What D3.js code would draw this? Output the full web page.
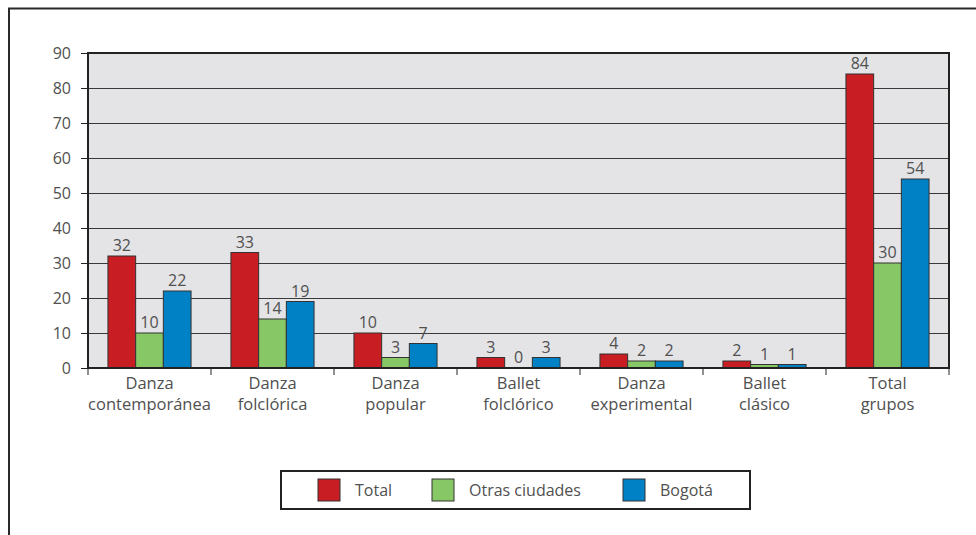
<!DOCTYPE html>
<html>
<head>
<meta charset="utf-8">
<script src="https://cdn.jsdelivr.net/npm/d3@7"></script>
<style>
  body { margin: 0; background: #fff; }
  text { font-family: "Open Sans", sans-serif; fill: #505050; }
</style>
</head>
<body>
<svg width="976" height="535"></svg>
<script>
// categories, split in two lines each
var categories = ["Danza contemporánea", "Danza folclórica", "Danza popular", "Ballet folclórico",
                  "Danza experimental", "Ballet clásico", "Total grupos"];
var series = ["Total", "Otras ciudades", "Bogotá"];
var total = [32, 33, 10, 3, 4, 2, 84];
var otras = [10, 14, 3, 0, 2, 1, 30];
var bogota = [22, 19, 7, 3, 2, 1, 54];
var yTicks = [0, 10, 20, 30, 40, 50, 60, 70, 80, 90];

var svg = d3.select("svg"),
    margin = { top: 53, right: 27, bottom: 167, left: 88 },
    width = +svg.attr("width") - margin.left - margin.right,
    height = +svg.attr("height") - margin.top - margin.bottom;

var color = d3.scaleOrdinal().domain(series).range(["#c91d24", "#88c765", "#0080c5"]);

// outer frame (left and top lines only)
svg.append("path")
    .attr("d", "M9,535V8.5H976")
    .attr("fill", "none")
    .attr("stroke", "#2a2a2a")
    .attr("stroke-width", 2);

var x = d3.scaleBand().domain(categories).range([0, width]).paddingInner(0).paddingOuter(0);
var xs = d3.scaleBand().domain(series).range([0, x.bandwidth()]).paddingOuter(0.72).paddingInner(0);
var y = d3.scaleLinear().domain([0, 90]).range([height, 0]);

var g = svg.append("g").attr("transform", "translate(" + margin.left + "," + margin.top + ")");

// plot background
g.append("rect")
    .attr("width", width)
    .attr("height", height)
    .attr("fill", "#e4e4e6");

// gridlines
g.selectAll(".grid")
    .data(yTicks.slice(1, -1))
    .enter().append("line")
    .attr("x1", 0).attr("x2", width)
    .attr("y1", function (d) { return Math.round(y(d)) + 0.5; })
    .attr("y2", function (d) { return Math.round(y(d)) + 0.5; })
    .attr("stroke", "#3a3a3a")
    .attr("stroke-width", 1);

var data = categories.map(function (c, i) {
    return { cat: c, values: [
        { s: series[0], v: total[i] },
        { s: series[1], v: otras[i] },
        { s: series[2], v: bogota[i] }
    ] };
});

var groups = g.selectAll(".grp")
    .data(data)
    .enter().append("g")
    .attr("transform", function (d) { return "translate(" + x(d.cat) + ",0)"; });

groups.selectAll("rect")
    .data(function (d) { return d.values; })
    .enter().append("rect")
    .attr("x", function (d) { return xs(d.s); })
    .attr("y", function (d) { return y(d.v); })
    .attr("width", xs.bandwidth())
    .attr("height", function (d) { return height - y(d.v); })
    .attr("fill", function (d) { return color(d.s); })
    .attr("stroke", "#333")
    .attr("stroke-width", 1);

groups.selectAll(".val")
    .data(function (d) { return d.values; })
    .enter().append("text")
    .attr("x", function (d) { return xs(d.s) + xs.bandwidth() / 2; })
    .attr("y", function (d) { return y(d.v) - 5; })
    .attr("text-anchor", "middle")
    .style("font-size", "16px")
    .text(function (d) { return d.v; });

// plot border
g.append("rect")
    .attr("width", width)
    .attr("height", height)
    .attr("fill", "none")
    .attr("stroke", "#222")
    .attr("stroke-width", 2);

// y axis
var yAxis = g.append("g")
    .call(d3.axisLeft(y).tickValues(yTicks).tickSize(7).tickPadding(10));
yAxis.select(".domain").remove();
yAxis.selectAll("line").attr("stroke", "#222");
yAxis.selectAll("text").style("font-size", "16px").attr("fill", "#505050");

// x axis ticks at category boundaries
var bounds = categories.map(function (c) { return x(c); }).concat([width]);
g.selectAll(".xtick")
    .data(bounds)
    .enter().append("line")
    .attr("x1", function (d) { return d; }).attr("x2", function (d) { return d; })
    .attr("y1", height).attr("y2", height + 7)
    .attr("stroke", "#222");

var labels = g.selectAll(".xlab")
    .data(categories)
    .enter().append("text")
    .attr("x", function (d) { return x(d) + x.bandwidth() / 2; })
    .attr("y", height + 21)
    .attr("text-anchor", "middle")
    .style("font-size", "16.5px");
labels.each(function (d) {
    var parts = d.split(" ");
    var t = d3.select(this);
    parts.forEach(function (p, i) {
        t.append("tspan")
            .attr("x", x(d) + x.bandwidth() / 2)
            .attr("dy", i === 0 ? 0 : 21)
            .text(p);
    });
});

// legend
var legend = svg.append("g").attr("transform", "translate(281,471)");
legend.append("rect")
    .attr("width", 469)
    .attr("height", 38)
    .attr("fill", "#fff")
    .attr("stroke", "#222")
    .attr("stroke-width", 2);

var legX = [37, 151, 342];
var items = legend.selectAll(".item")
    .data(series)
    .enter().append("g")
    .attr("transform", function (d, i) { return "translate(" + legX[i] + ",8)"; });
items.append("rect")
    .attr("width", 22)
    .attr("height", 22)
    .attr("fill", function (d) { return color(d); })
    .attr("stroke", "#333");
items.append("text")
    .attr("x", 37)
    .attr("y", 16.5)
    .style("font-size", "16px")
    .text(function (d) { return d; });
</script>
</body>
</html>
